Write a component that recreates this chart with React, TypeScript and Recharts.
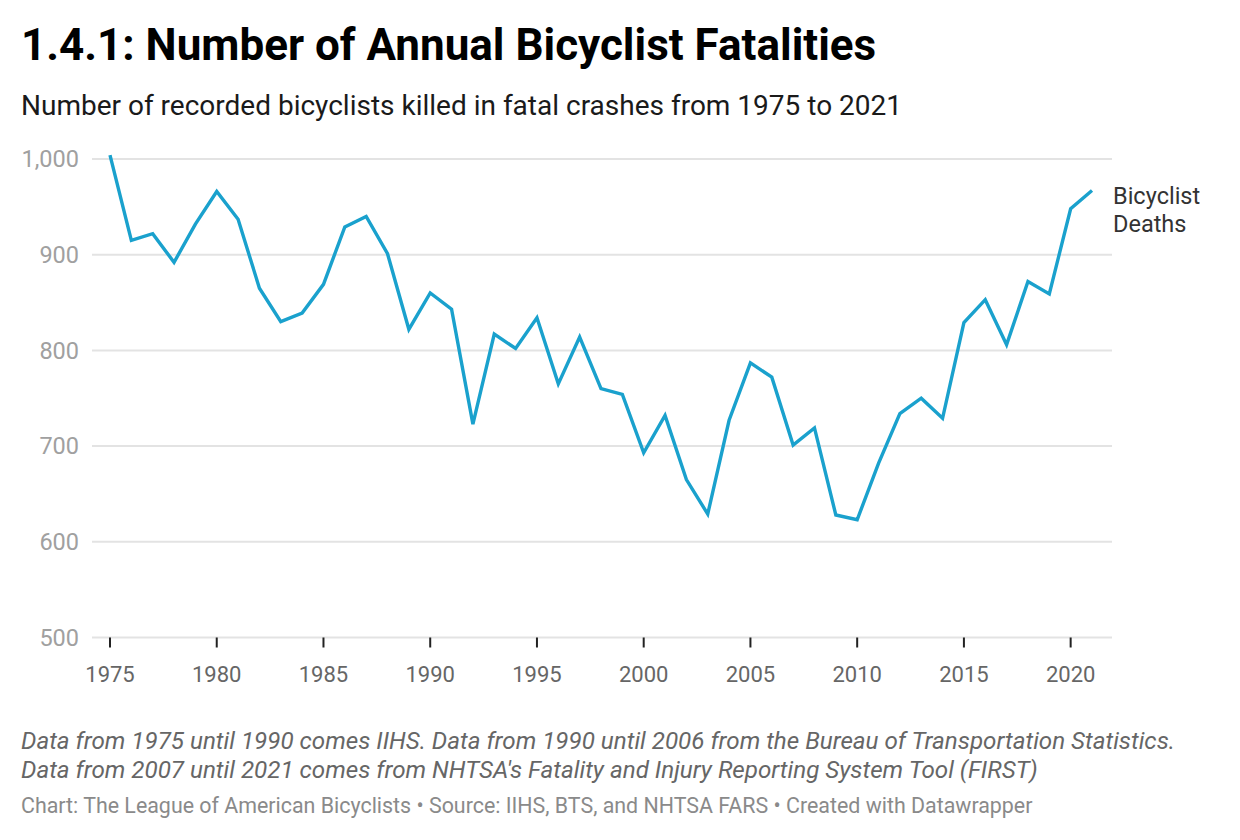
import React from "react";
import { LineChart, Line, XAxis, YAxis, CartesianGrid, LabelList } from "recharts";

const years = [
  1975, 1976, 1977, 1978, 1979, 1980, 1981, 1982, 1983, 1984, 1985, 1986, 1987, 1988, 1989, 1990,
  1991, 1992, 1993, 1994, 1995, 1996, 1997, 1998, 1999, 2000, 2001, 2002, 2003, 2004, 2005, 2006,
  2007, 2008, 2009, 2010, 2011, 2012, 2013, 2014, 2015, 2016, 2017, 2018, 2019, 2020, 2021,
];
const deaths = [
  1004, 915, 922, 892, 932, 966, 937, 865, 830, 839, 869, 929, 940, 901, 822, 860,
  843, 723, 817, 802, 834, 765, 814, 760, 754, 693, 732, 665, 629, 727, 787, 772,
  701, 719, 628, 623, 682, 734, 750, 729, 829, 853, 806, 872, 859, 948, 967,
];
const xTicks = [1975, 1980, 1985, 1990, 1995, 2000, 2005, 2010, 2015, 2020];
const yTicks = [500, 600, 700, 800, 900, 1000];
const seriesLabel = ["Bicyclist", "Deaths"];

const title = "1.4.1: Number of Annual Bicyclist Fatalities";
const subtitle = "Number of recorded bicyclists killed in fatal crashes from 1975 to 2021";
const notes = [
  "Data from 1975 until 1990 comes IIHS. Data from 1990 until 2006 from the Bureau of Transportation Statistics.",
  "Data from 2007 until 2021 comes from NHTSA's Fatality and Injury Reporting System Tool (FIRST)",
];
const credit =
  "Chart: The League of American Bicyclists \u2022 Source: IIHS, BTS, and NHTSA FARS \u2022 Created with Datawrapper";

const data = years.map((y, i) => ({ year: y, deaths: deaths[i] }));

const FONT = "Roboto, 'Noto Sans', sans-serif";

const EndLabel = (props: any) => {
  const { x, y, index } = props;
  if (index !== data.length - 1) return null;
  return (
    <text x={x + 21} y={y + 13} fill="#333" fontSize={23.5} fontFamily={FONT}>
      <tspan x={x + 21} dy={0}>{seriesLabel[0]}</tspan>
      <tspan x={x + 21} dy={28}>{seriesLabel[1]}</tspan>
    </text>
  );
};

export default function App() {
  return (
    <div
      style={{
        position: "absolute",
        left: 0,
        top: 0,
        width: 1240,
        height: 840,
        background: "#fff",
        fontFamily: FONT,
        overflow: "hidden",
      }}
    >
      <div
        style={{
          position: "absolute",
          left: 21,
          top: 15,
          fontSize: 44,
          fontWeight: 700,
          color: "#000",
          lineHeight: "60px",
          whiteSpace: "nowrap",
        }}
      >
        {title}
      </div>
      <div
        style={{
          position: "absolute",
          left: 21,
          top: 88,
          fontSize: 28,
          color: "#1a1a1a",
          lineHeight: "36px",
          whiteSpace: "nowrap",
        }}
      >
        {subtitle}
      </div>
      <div style={{ position: "absolute", left: 0, top: 0 }}>
        <LineChart
          width={1240}
          height={700}
          data={data}
          margin={{ top: 149.4, right: 128, bottom: 12.5, left: 0 }}
        >
          <CartesianGrid
            vertical={false}
            stroke="#e3e3e3"
            strokeWidth={2}
            horizontalValues={yTicks}
          />
          <XAxis
            dataKey="year"
            type="number"
            domain={[1975, 2021]}
            ticks={xTicks}
            padding={{ left: 18, right: 20 }}
            axisLine={false}
            tickLine={{ stroke: "#222", strokeWidth: 2 }}
            tickSize={10}
            tickMargin={19}
            height={50}
            tick={{ fill: "#666", fontSize: 22, fontFamily: FONT }}
          />
          <YAxis
            type="number"
            domain={[500, 1010]}
            ticks={yTicks}
            allowDataOverflow
            axisLine={false}
            tickLine={false}
            tickSize={0}
            tickMargin={13}
            width={92}
            tickFormatter={(v: number) => v.toLocaleString("en-US")}
            tick={{ fill: "#a0a0a0", fontSize: 23.5, fontFamily: FONT }}
          />
          <Line
            dataKey="deaths"
            type="linear"
            stroke="#1aa1cd"
            strokeWidth={3.4}
            dot={false}
            activeDot={false}
            isAnimationActive={false}
          >
            <LabelList dataKey="deaths" content={EndLabel} />
          </Line>
        </LineChart>
      </div>
      <div
        style={{
          position: "absolute",
          left: 21,
          top: 727,
          fontSize: 24.2,
          fontStyle: "italic",
          color: "#666",
          lineHeight: "29px",
          whiteSpace: "nowrap",
        }}
      >
        <div>{notes[0]}</div>
        <div>{notes[1]}</div>
      </div>
      <div
        style={{
          position: "absolute",
          left: 21,
          top: 792,
          fontSize: 21.4,
          color: "#8a8a8a",
          lineHeight: "28px",
          whiteSpace: "nowrap",
        }}
      >
        {credit}
      </div>
    </div>
  );
}
